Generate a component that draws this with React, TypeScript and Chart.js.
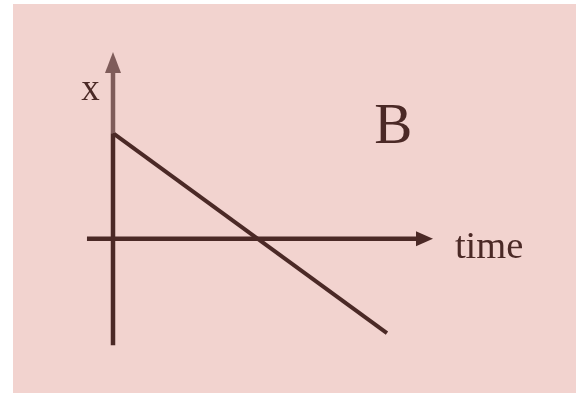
import React, { useEffect, useRef } from "react";
import { Chart, registerables } from "chart.js";

Chart.register(...registerables);

// Position–time graph "B": position starts positive and decreases linearly through zero.
const motionTime = [0, 10];
const motionPosition = [4, -3.57];

// Axes extents (data units)
const timeAxisRange = [-0.95, 11.68]; // start, arrow tip
const posAxisRange = [-4.03, 7.07]; // bottom, arrow tip

// Text labels
const labelTexts = ["x", "B", "time"];
const labelTimes = [-0.82, 10.23, 12.48];
const labelPositions = [5.25, 3.62, -0.73];

const DARK = "#4b2926";
const LIGHT = "#7f5c5a";
const BG = "#f2d3cf";

export default function App() {
  const ref = useRef<HTMLCanvasElement | null>(null);

  useEffect(() => {
    if (!ref.current) return;
    const arrowLenX = 17 / 27.4;
    const arrowLenY = 21 / 26.4;

    const bgPlugin = {
      id: "bg",
      beforeDraw(chart: any) {
        const ctx = chart.ctx;
        ctx.save();
        ctx.fillStyle = BG;
        ctx.fillRect(0, 0, chart.width, chart.height);
        ctx.restore();
      },
    };

    const decoPlugin = {
      id: "deco",
      afterDatasetsDraw(chart: any) {
        const ctx = chart.ctx;
        const xs = chart.scales.x;
        const ys = chart.scales.y;
        ctx.save();
        // time axis arrowhead
        const tipX = xs.getPixelForValue(timeAxisRange[1]);
        const baseX = xs.getPixelForValue(timeAxisRange[1] - arrowLenX);
        const y0 = ys.getPixelForValue(0);
        ctx.fillStyle = DARK;
        ctx.beginPath();
        ctx.moveTo(tipX, y0);
        ctx.lineTo(baseX, y0 - 7.5);
        ctx.lineTo(baseX, y0 + 7.5);
        ctx.closePath();
        ctx.fill();
        // position axis arrowhead
        const tipY = ys.getPixelForValue(posAxisRange[1]);
        const baseY = ys.getPixelForValue(posAxisRange[1] - arrowLenY);
        const x0 = xs.getPixelForValue(0);
        ctx.fillStyle = LIGHT;
        ctx.beginPath();
        ctx.moveTo(x0, tipY);
        ctx.lineTo(x0 - 8, baseY);
        ctx.lineTo(x0 + 8, baseY);
        ctx.closePath();
        ctx.fill();
        // labels
        const sizes = [37, 57, 38.5];
        const aligns = ["center", "center", "left"];
        ctx.fillStyle = DARK;
        ctx.textBaseline = "alphabetic";
        labelTexts.forEach((t, i) => {
          ctx.font = `${sizes[i]}px "Liberation Serif", "Times New Roman", serif`;
          ctx.textAlign = aligns[i];
          ctx.fillText(
            t,
            xs.getPixelForValue(labelTimes[i]),
            ys.getPixelForValue(labelPositions[i])
          );
        });
        ctx.restore();
      },
    };

    const line = (data: any[], color: string, width: number) => ({
      data,
      borderColor: color,
      borderWidth: width,
      pointRadius: 0,
      borderCapStyle: "butt",
      fill: false,
      tension: 0,
    });

    const chart = new Chart(ref.current, {
      type: "line",
      data: {
        datasets: [
          line(
            [
              { x: timeAxisRange[0], y: 0 },
              { x: timeAxisRange[1] - arrowLenX + 0.05, y: 0 },
            ],
            DARK,
            4.5
          ),
          line(
            [
              { x: 0, y: posAxisRange[0] },
              { x: 0, y: motionPosition[0] },
            ],
            DARK,
            4.5
          ),
          line(
            [
              { x: 0, y: motionPosition[0] },
              { x: 0, y: posAxisRange[1] - arrowLenY + 0.05 },
            ],
            LIGHT,
            4.5
          ),
          line(
            motionTime.map((t, i) => ({ x: t, y: motionPosition[i] })),
            DARK,
            4
          ),
        ] as any,
      },
      options: {
        animation: false,
        responsive: false,
        layout: { padding: 0 },
        plugins: { legend: { display: false }, tooltip: { enabled: false } },
        scales: {
          x: { type: "linear", min: -3.65, max: 16.9, display: false },
          y: { type: "linear", min: -5.84, max: 8.89, display: false },
        },
      },
      plugins: [bgPlugin, decoPlugin],
    });
    return () => chart.destroy();
  }, []);

  return (
    <div style={{ position: "absolute", left: 13, top: 4, width: 563, height: 389 }}>
      <canvas ref={ref} width={563} height={389} style={{ display: "block" }} />
    </div>
  );
}
